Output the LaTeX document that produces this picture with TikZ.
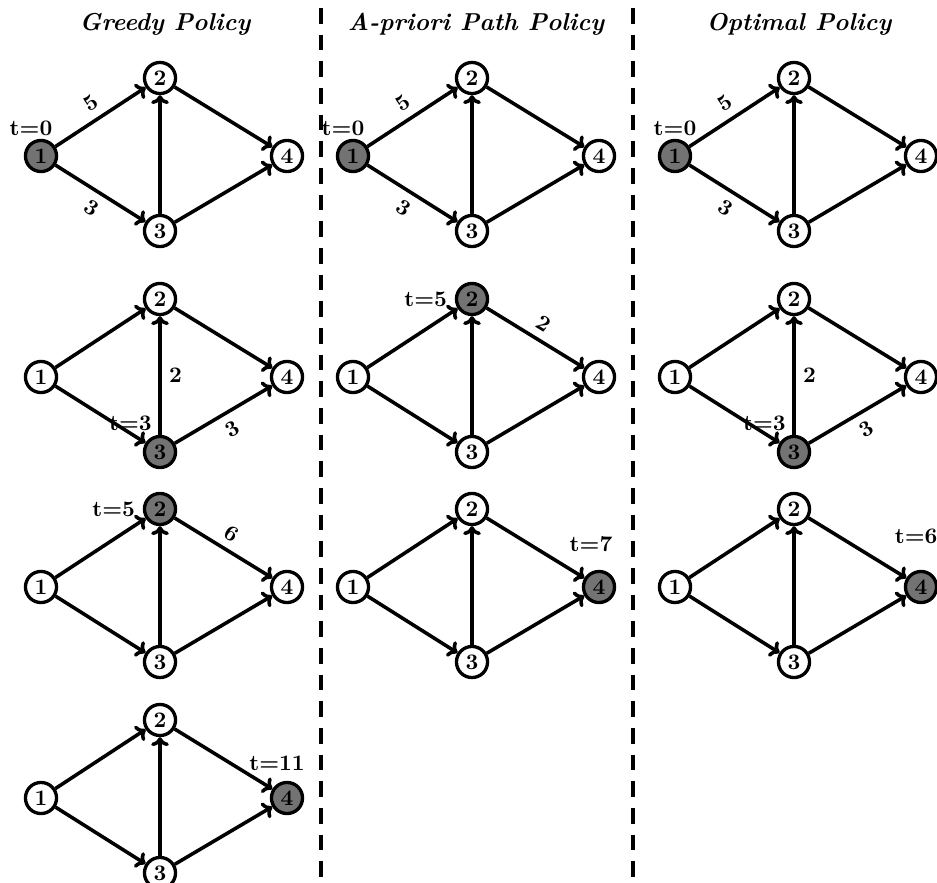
\documentclass[tikz,border=0pt]{standalone}
\usetikzlibrary{arrows.meta}

\begin{document}
\begin{tikzpicture}[
      x=0.45pt, y=-0.45pt,
      font=\bfseries,
      vertex/.style={draw, circle, line width=1.5pt, minimum size=14pt, inner sep=0pt},
      visited/.style={vertex, fill=black!55},
      road/.style={-{To[length=4pt, width=8pt]}, line width=1.6pt},
      cost/.style={midway},
      policy/.style={font=\fontsize{11}{13}\selectfont\bfseries\itshape},
      divider/.style={line width=1.6pt, dash pattern=on 7pt off 5pt},
    ]
      \useasboundingbox (0,0) rectangle (937,883);

      \node[policy] (greedy) at (165,24) {Greedy Policy};
      \node[policy] (apriori) at (476,24) {A-priori Path Policy};
      \node[policy] (optimal) at (799,24) {Optimal Policy};

      \draw[divider] (321,8) -- (321,880);
      \draw[divider] (633,8) -- (633,880);

      % greedy policy
      \begin{scope}[shift={(41,156)}]
        \node[visited, label={[label distance=-2pt, xshift=-4.5pt]above:t=0}] (g1n1) at (0,0) {1};
        \node[vertex] (g1n2) at (119,-78) {2};
        \node[vertex] (g1n3) at (119,75) {3};
        \node[vertex] (g1n4) at (246,0) {4};
        \draw[road] (g1n1) -- node[cost, above, sloped] {5} (g1n2);
        \draw[road] (g1n1) -- node[cost, below, sloped] {3} (g1n3);
        \draw[road] (g1n3) -- (g1n2);
        \draw[road] (g1n2) -- (g1n4);
        \draw[road] (g1n3) -- (g1n4);
      \end{scope}

      \begin{scope}[shift={(41,377)}]
        \node[vertex] (g2n1) at (0,0) {1};
        \node[vertex] (g2n2) at (119,-78) {2};
        \node[visited, label={[label distance=1pt, xshift=6pt]135:t=3}] (g2n3) at (119,75) {3};
        \node[vertex] (g2n4) at (246,0) {4};
        \draw[road] (g2n1) -- (g2n2);
        \draw[road] (g2n1) -- (g2n3);
        \draw[road] (g2n3) -- node[cost, right] {2} (g2n2);
        \draw[road] (g2n2) -- (g2n4);
        \draw[road] (g2n3) -- node[cost, below, sloped] {3} (g2n4);
      \end{scope}

      \begin{scope}[shift={(41,587)}]
        \node[vertex] (g3n1) at (0,0) {1};
        \node[visited, label={left:t=5}] (g3n2) at (119,-78) {2};
        \node[vertex] (g3n3) at (119,75) {3};
        \node[vertex] (g3n4) at (246,0) {4};
        \draw[road] (g3n1) -- (g3n2);
        \draw[road] (g3n1) -- (g3n3);
        \draw[road] (g3n3) -- (g3n2);
        \draw[road] (g3n2) -- node[cost, above, sloped] {6} (g3n4);
        \draw[road] (g3n3) -- (g3n4);
      \end{scope}

      \begin{scope}[shift={(41,798)}]
        \node[vertex] (g4n1) at (0,0) {1};
        \node[vertex] (g4n2) at (119,-78) {2};
        \node[vertex] (g4n3) at (119,75) {3};
        \node[visited, label={[label distance=1pt, xshift=-4.5pt]above:t=11}] (g4n4) at (246,0) {4};
        \draw[road] (g4n1) -- (g4n2);
        \draw[road] (g4n1) -- (g4n3);
        \draw[road] (g4n3) -- (g4n2);
        \draw[road] (g4n2) -- (g4n4);
        \draw[road] (g4n3) -- (g4n4);
      \end{scope}

      % a-priori path policy
      \begin{scope}[shift={(353,156)}]
        \node[visited, label={[label distance=-2pt, xshift=-4.5pt]above:t=0}] (a1n1) at (0,0) {1};
        \node[vertex] (a1n2) at (119,-78) {2};
        \node[vertex] (a1n3) at (119,75) {3};
        \node[vertex] (a1n4) at (246,0) {4};
        \draw[road] (a1n1) -- node[cost, above, sloped] {5} (a1n2);
        \draw[road] (a1n1) -- node[cost, below, sloped] {3} (a1n3);
        \draw[road] (a1n3) -- (a1n2);
        \draw[road] (a1n2) -- (a1n4);
        \draw[road] (a1n3) -- (a1n4);
      \end{scope}

      \begin{scope}[shift={(353,377)}]
        \node[vertex] (a2n1) at (0,0) {1};
        \node[visited, label={left:t=5}] (a2n2) at (119,-78) {2};
        \node[vertex] (a2n3) at (119,75) {3};
        \node[vertex] (a2n4) at (246,0) {4};
        \draw[road] (a2n1) -- (a2n2);
        \draw[road] (a2n1) -- (a2n3);
        \draw[road] (a2n3) -- (a2n2);
        \draw[road] (a2n2) -- node[cost, above, sloped] {2} (a2n4);
        \draw[road] (a2n3) -- (a2n4);
      \end{scope}

      \begin{scope}[shift={(353,587)}]
        \node[vertex] (a3n1) at (0,0) {1};
        \node[vertex] (a3n2) at (119,-78) {2};
        \node[vertex] (a3n3) at (119,75) {3};
        \node[visited, label={[label distance=4.8pt, xshift=-3.6pt]above:t=7}] (a3n4) at (246,0) {4};
        \draw[road] (a3n1) -- (a3n2);
        \draw[road] (a3n1) -- (a3n3);
        \draw[road] (a3n3) -- (a3n2);
        \draw[road] (a3n2) -- (a3n4);
        \draw[road] (a3n3) -- (a3n4);
      \end{scope}

      % optimal policy
      \begin{scope}[shift={(675,156)}]
        \node[visited, label={[label distance=-2pt]above:t=0}] (o1n1) at (0,0) {1};
        \node[vertex] (o1n2) at (119,-78) {2};
        \node[vertex] (o1n3) at (119,75) {3};
        \node[vertex] (o1n4) at (246,0) {4};
        \draw[road] (o1n1) -- node[cost, above, sloped] {5} (o1n2);
        \draw[road] (o1n1) -- node[cost, below, sloped] {3} (o1n3);
        \draw[road] (o1n3) -- (o1n2);
        \draw[road] (o1n2) -- (o1n4);
        \draw[road] (o1n3) -- (o1n4);
      \end{scope}

      \begin{scope}[shift={(675,377)}]
        \node[vertex] (o2n1) at (0,0) {1};
        \node[vertex] (o2n2) at (119,-78) {2};
        \node[visited, label={[label distance=1pt, xshift=6pt]135:t=3}] (o2n3) at (119,75) {3};
        \node[vertex] (o2n4) at (246,0) {4};
        \draw[road] (o2n1) -- (o2n2);
        \draw[road] (o2n1) -- (o2n3);
        \draw[road] (o2n3) -- node[cost, right] {2} (o2n2);
        \draw[road] (o2n2) -- (o2n4);
        \draw[road] (o2n3) -- node[cost, below, sloped] {3} (o2n4);
      \end{scope}

      \begin{scope}[shift={(675,587)}]
        \node[vertex] (o3n1) at (0,0) {1};
        \node[vertex] (o3n2) at (119,-78) {2};
        \node[vertex] (o3n3) at (119,75) {3};
        \node[visited, label={[label distance=8.4pt, xshift=-2.2pt]above:t=6}] (o3n4) at (246,0) {4};
        \draw[road] (o3n1) -- (o3n2);
        \draw[road] (o3n1) -- (o3n3);
        \draw[road] (o3n3) -- (o3n2);
        \draw[road] (o3n2) -- (o3n4);
        \draw[road] (o3n3) -- (o3n4);
      \end{scope}
    \end{tikzpicture}
\end{document}
